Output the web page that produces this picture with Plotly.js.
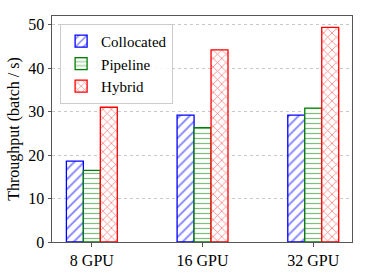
<!DOCTYPE html>
<html>
<head>
<meta charset="utf-8">
<script src="https://cdn.plot.ly/plotly-3.0.1.min.js"></script>
<style>html,body{margin:0;padding:0;background:#fff;}#chart{width:369px;height:277px;}</style>
</head>
<body>
<div id="chart"></div>
<script>
const categories = ["8 GPU", "16 GPU", "32 GPU"];
const collocated = [18.6, 29.2, 29.2];
const pipeline = [16.5, 26.3, 30.8];
const hybrid = [31.0, 44.2, 49.4];
const seriesNames = ["Collocated", "Pipeline", "Hybrid"];

const fam = "Liberation Serif";
const font = {family: fam, size: 16, color: "#000"};

function mk(name, y, color, shape, size) {
  return {
    type: "bar", name: name, x: categories, y: y,
    marker: {
      color: "white",
      line: {color: color, width: 1.3},
      pattern: {shape: shape, fgcolor: color, bgcolor: "white", size: size, solidity: 0.25, fillmode: "overlay"}
    }
  };
}

const data = [
  mk(seriesNames[0], collocated, "#0000ff", "/", 7),
  mk(seriesNames[1], pipeline, "#008000", "-", 5),
  mk(seriesNames[2], hybrid, "#ff0000", "x", 6)
];

const layout = {
  width: 369, height: 277,
  margin: {l: 52, r: 17, t: 16, b: 35},
  paper_bgcolor: "white", plot_bgcolor: "white",
  font: font,
  barmode: "group", bargap: 0.54, bargroupgap: 0,
  showlegend: true,
  legend: {
    x: 0.027, y: 0.965, xanchor: "left", yanchor: "top",
    bgcolor: "rgba(255,255,255,0.85)", bordercolor: "#cccccc", borderwidth: 1,
    font: {family: fam, size: 15}, tracegroupgap: 0
  },
  xaxis: {
    type: "category", range: [-0.36, 2.35],
    showline: true, mirror: true, linecolor: "#555", linewidth: 1,
    ticks: "outside", ticklen: 3.5, tickcolor: "#555",
    showgrid: false, tickfont: {family: fam, size: 16}
  },
  yaxis: {
    range: [0, 52], tickvals: [0, 10, 20, 30, 40, 50],
    showline: true, mirror: true, linecolor: "#555", linewidth: 1,
    ticks: "outside", ticklen: 3.5, tickcolor: "#555",
    showgrid: true, gridcolor: "#c8c8c8", griddash: "dot", gridwidth: 1,
    zeroline: false,
    tickfont: {family: fam, size: 16},
    title: {text: "Throughput (batch / s)", font: {family: fam, size: 16}, standoff: 4}
  }
};

Plotly.newPlot("chart", data, layout, {displayModeBar: false, staticPlot: true});
</script>
</body>
</html>
